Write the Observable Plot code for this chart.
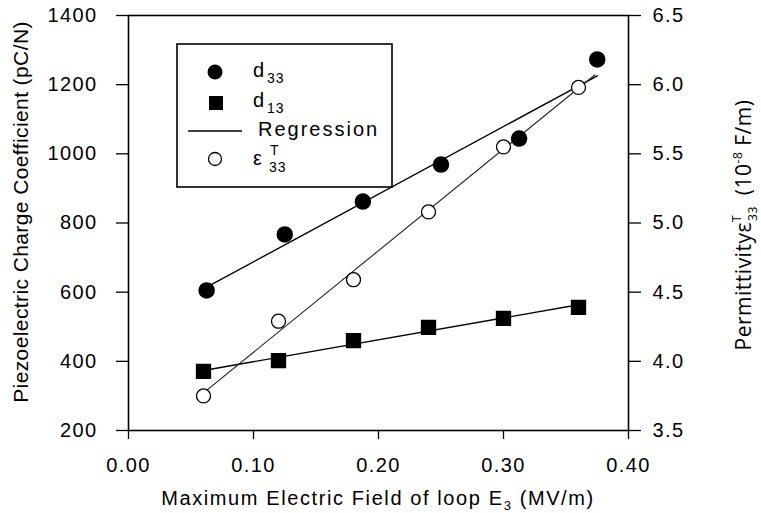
<!DOCTYPE html>
<html><head><meta charset="utf-8">
<script src="https://cdn.jsdelivr.net/npm/d3@7"></script>
<script src="https://cdn.jsdelivr.net/npm/@observablehq/plot@0.6"></script>
<style>
html,body{margin:0;padding:0;background:#fff;}
#chart{width:761px;height:513px;}
</style></head><body><div id="chart"></div>
<script>
// ---- data ----
const xD33 = [0.0625, 0.125, 0.1875, 0.25, 0.3125, 0.375];
const d33  = [605, 767, 862, 969, 1044, 1273];
const xD13 = [0.06, 0.12, 0.18, 0.24, 0.30, 0.36];
const d13  = [371, 402, 460, 498, 524, 556];
const xEps = [0.06, 0.12, 0.18, 0.24, 0.30, 0.36];
const eps  = [3.75, 4.29, 4.59, 5.08, 5.55, 5.98];   // 10^-8 F/m (right axis)
const epsFitRange = [0.06, 0.373];                   // x extent of the permittivity regression line

const xTicks = [0, 0.1, 0.2, 0.3, 0.4];
const leftTicks = [200, 400, 600, 800, 1000, 1200, 1400];
const rightTicks = [3.5, 4.0, 4.5, 5.0, 5.5, 6.0, 6.5];
const xDomain = [0, 0.4];
const leftDomain = [200, 1400];
const rightDomain = [3.5, 6.5];

// map right-axis values onto the left (shared) y scale
const epsToY = e => leftDomain[0] + (e - rightDomain[0]) * (leftDomain[1] - leftDomain[0]) / (rightDomain[1] - rightDomain[0]);
const yToEps = y => rightDomain[0] + (y - leftDomain[0]) * (rightDomain[1] - rightDomain[0]) / (leftDomain[1] - leftDomain[0]);

const d33Data = xD33.map((x, i) => ({x, y: d33[i]}));
const d13Data = xD13.map((x, i) => ({x, y: d13[i]}));
const epsData = xEps.map((x, i) => ({x, y: epsToY(eps[i])}));

// least squares fit for the permittivity line (drawn over epsFitRange)
const mx = d3.mean(epsData, d => d.x), my = d3.mean(epsData, d => d.y);
const slope = d3.sum(epsData, d => (d.x - mx) * (d.y - my)) / d3.sum(epsData, d => (d.x - mx) ** 2);
const epsFit = epsFitRange.map(x => ({x, y: my + slope * (x - mx)}));

const FONT = "'Liberation Sans', Arial, Helvetica, sans-serif";

const plot = Plot.plot({
  width: 761, height: 513,
  marginLeft: 128, marginRight: 133, marginTop: 15, marginBottom: 83,
  style: {fontFamily: FONT, fontSize: "20px", background: "white", color: "black", letterSpacing: "1.4px", overflow: "visible"},
  x: {domain: xDomain},
  y: {domain: leftDomain},
  marks: [
    Plot.linearRegressionY(d33Data, {x: "x", y: "y", stroke: "black", strokeWidth: 1.4, ci: 0}),
    Plot.linearRegressionY(d13Data, {x: "x", y: "y", stroke: "black", strokeWidth: 1.4, ci: 0}),
    Plot.line(epsFit, {x: "x", y: "y", stroke: "#222", strokeWidth: 1.1}),
    Plot.dot(d33Data, {x: "x", y: "y", r: 7.5, fill: "black", stroke: "black"}),
    Plot.dot(d13Data, {x: "x", y: "y", r: 7.8, symbol: "square", fill: "black", stroke: "black"}),
    Plot.dot(epsData, {x: "x", y: "y", r: 7, fill: "white", stroke: "black", strokeWidth: 1.3}),
    Plot.axisX(xTicks, {tickFormat: d => d.toFixed(2), tickSize: 9, tickPadding: 18, label: null, strokeWidth: 1.3}),
    Plot.axisY(leftTicks, {anchor: "left", tickSize: 12, tickPadding: 19, label: null, strokeWidth: 1.3,
      tickFormat: d => String(d)}),
    Plot.axisY(rightTicks.map(epsToY), {anchor: "right", tickSize: 12, tickPadding: 12, label: null, strokeWidth: 1.3,
      tickFormat: d => yToEps(d).toFixed(1)}),
    Plot.frame({stroke: "black", strokeWidth: 1.6})
  ]
});
document.getElementById("chart").appendChild(plot);

// ---- titles and legend (text with sub/superscripts) ----
const svg = d3.select(plot);

// x title
const xt = svg.append("text").attr("x", 378).attr("y", 505).attr("text-anchor", "middle")
  .attr("font-family", FONT).attr("font-size", 20).attr("letter-spacing", "1.6px");
xt.append("tspan").text("Maximum Electric Field of loop E");
xt.append("tspan").attr("font-size", 13).attr("dy", 5).text("3");
xt.append("tspan").attr("dy", -5).text(" (MV/m)");

// left title
svg.append("text").attr("transform", "translate(28,212) rotate(-90)").attr("text-anchor", "middle")
  .attr("font-family", FONT).attr("font-size", 21).attr("letter-spacing", "0.4px")
  .text("Piezoelectric Charge Coefficient (pC/N)");

// right title
const rt = svg.append("text").attr("transform", "translate(751,225) rotate(-90)").attr("text-anchor", "middle")
  .attr("font-family", "'Open Sans', 'DejaVu Sans', sans-serif").attr("font-size", 21).attr("letter-spacing", "0.5px");
rt.append("tspan").text("Permittivity\u03B5");
rt.append("tspan").attr("font-size", 12).attr("dy", -10).text("T");
rt.append("tspan").attr("font-size", 12).attr("dx", -6).attr("dy", 16).text("33");
rt.append("tspan").attr("dy", -6).text("\u2002(10");
rt.append("tspan").attr("font-size", 12).attr("dy", -9).text("-8");
rt.append("tspan").attr("dy", 9).text(" F/m)");

// legend
const lg = svg.append("g").attr("font-family", FONT).attr("fill", "black").attr("text-anchor", "start");
lg.append("rect").attr("x", 177).attr("y", 44).attr("width", 215).attr("height", 143)
  .attr("fill", "white").attr("stroke", "black").attr("stroke-width", 1.6);
lg.append("circle").attr("cx", 215).attr("cy", 72).attr("r", 7.5).attr("fill", "black");
lg.append("rect").attr("x", 209).attr("y", 96).attr("width", 14).attr("height", 14).attr("fill", "black");
lg.append("line").attr("x1", 188).attr("x2", 242).attr("y1", 131).attr("y2", 131).attr("stroke", "black").attr("stroke-width", 1.4);
lg.append("circle").attr("cx", 215).attr("cy", 159).attr("r", 6.5).attr("fill", "white").attr("stroke", "black").attr("stroke-width", 1.3);

const ltxt = (x, y, s, size, ls) => lg.append("text").attr("x", x).attr("y", y).attr("font-size", size)
  .attr("text-anchor", "start").attr("letter-spacing", ls).text(s);
ltxt(253, 77, "d", 20, "1px"); ltxt(267, 83, "33", 14, "1px");
ltxt(253, 107, "d", 20, "1px"); ltxt(267, 113, "13", 14, "1px");
ltxt(258, 136, "Regression", 20, "2px");
ltxt(253, 165, "\u03B5", 20, "1px"); ltxt(270, 155, "T", 14, "1px"); ltxt(269, 172, "33", 14, "1px");
</script></body></html>
